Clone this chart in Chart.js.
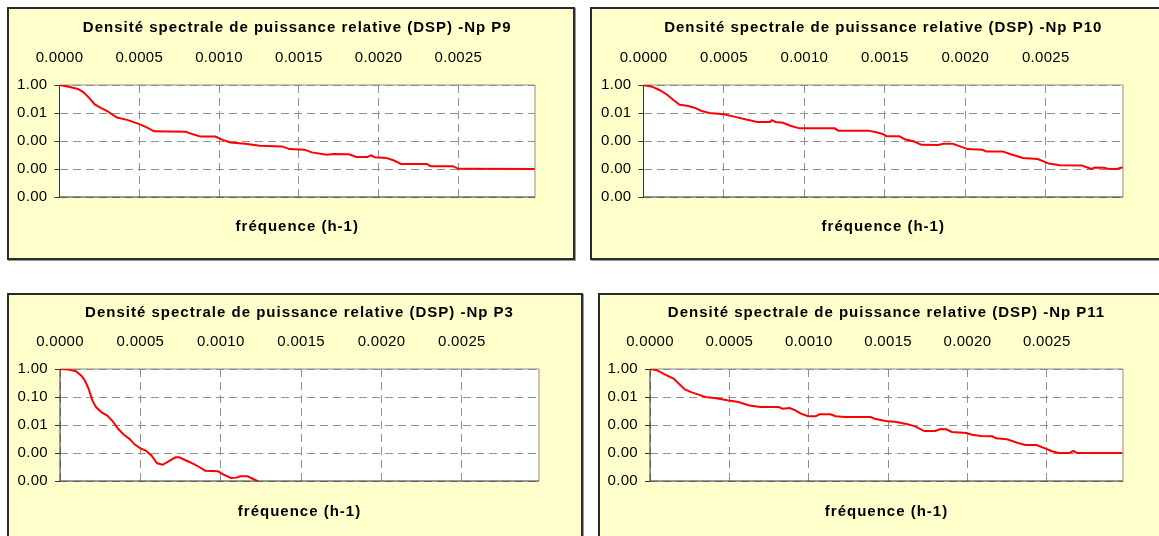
<!DOCTYPE html>
<html lang="fr">
<head>
<meta charset="utf-8">
<script src="https://cdn.jsdelivr.net/npm/chart.js"></script>
<style>
  html, body { margin: 0; padding: 0; background: #fff; width: 1159px; height: 536px; overflow: hidden; }
  .panel { position: absolute; box-sizing: border-box; border: 2px solid #2b2b2b; background: #ffffcc; box-shadow: 1px 1px 0 #9a9a9a; }
  .panel canvas { display: block; }
</style>
</head>
<body>
<div class="panel" style="left:7px;top:7px;width:568px;height:253px"><canvas id="cP9" width="564" height="249"></canvas></div>
<div class="panel" style="left:590px;top:7px;width:600px;height:253px"><canvas id="cP10" width="596" height="249"></canvas></div>
<div class="panel" style="left:7px;top:293px;width:576px;height:260px"><canvas id="cP3" width="572" height="256"></canvas></div>
<div class="panel" style="left:598px;top:293px;width:600px;height:260px"><canvas id="cP11" width="596" height="256"></canvas></div>

<script>
// axes
const X_MAX = 0.00298;
const xTicks = [0, 0.0005, 0.0010, 0.0015, 0.0020, 0.0025];
const yTicksWide = [1, 1e-2, 1e-4, 1e-6, 1e-8];
const yTicksP3 = [1, 1e-1, 1e-2, 1e-3, 1e-4];

// Np P9
const freqP9 = [0, 5.8e-5, 1.16e-4, 1.51e-4, 1.86e-4, 2.21e-4, 2.56e-4, 3.02e-4, 3.60e-4, 4.30e-4,
  5.00e-4, 5.47e-4, 5.93e-4, 7.91e-4, 8.37e-4, 8.84e-4, 9.77e-4, 1.023e-3, 1.070e-3, 1.163e-3,
  1.256e-3, 1.395e-3, 1.442e-3, 1.535e-3, 1.581e-3, 1.674e-3, 1.721e-3, 1.814e-3, 1.860e-3, 1.930e-3,
  1.953e-3, 1.977e-3, 2.047e-3, 2.093e-3, 2.140e-3, 2.302e-3, 2.326e-3, 2.465e-3, 2.500e-3, 2.977e-3];
const dspP9 = [1, 0.76, 0.52, 0.30, 0.12, 0.041, 0.024, 0.0132, 0.0047, 0.0031,
  0.0016, 9.4e-4, 4.9e-4, 4.6e-4, 3.0e-4, 2.06e-4, 2.06e-4, 1.2e-4, 7.8e-5, 6.3e-5,
  4.5e-5, 4.1e-5, 2.65e-5, 2.4e-5, 1.54e-5, 1.05e-5, 1.18e-5, 1.11e-5, 7.2e-6, 7.2e-6,
  9.5e-6, 6.9e-6, 6.2e-6, 4.2e-6, 2.3e-6, 2.3e-6, 1.6e-6, 1.6e-6, 1.03e-6, 1.0e-6];

// Np P10
const freqP10 = [0, 5.3e-5, 9.9e-5, 1.45e-4, 1.90e-4, 2.25e-4, 2.71e-4, 3.17e-4, 3.62e-4, 4.08e-4,
  5.00e-4, 5.69e-4, 6.38e-4, 7.07e-4, 7.87e-4, 7.98e-4, 8.21e-4, 8.67e-4, 9.13e-4, 9.70e-4,
  1.188e-3, 1.211e-3, 1.395e-3, 1.441e-3, 1.487e-3, 1.509e-3, 1.590e-3, 1.624e-3, 1.682e-3, 1.727e-3,
  1.831e-3, 1.865e-3, 1.922e-3, 1.968e-3, 2.014e-3, 2.106e-3, 2.129e-3, 2.232e-3, 2.278e-3, 2.358e-3,
  2.450e-3, 2.519e-3, 2.588e-3, 2.725e-3, 2.783e-3, 2.806e-3, 2.863e-3, 2.897e-3, 2.943e-3, 2.978e-3];
const dspP10 = [1, 0.76, 0.44, 0.21, 0.079, 0.039, 0.033, 0.024, 0.014, 0.0101,
  0.0081, 0.0053, 0.0034, 0.0023, 0.0023, 0.0031, 0.0023, 0.0020, 0.00123, 8.0e-4,
  8.0e-4, 5.5e-4, 5.5e-4, 4.4e-4, 3.2e-4, 2.2e-4, 2.2e-4, 1.34e-4, 9.2e-5, 5.3e-5,
  5.1e-5, 6.3e-5, 6.3e-5, 4.1e-5, 2.65e-5, 2.4e-5, 1.8e-5, 1.8e-5, 1.18e-5, 6.2e-6,
  5.2e-6, 2.45e-6, 1.87e-6, 1.77e-6, 1.03e-6, 1.28e-6, 1.22e-6, 9.8e-7, 1.0e-6, 1.35e-6];

// Np P3
const freqP3 = [0, 5.3e-5, 9.9e-5, 1.33e-4, 1.56e-4, 1.79e-4, 2.02e-4, 2.25e-4, 2.60e-4, 2.94e-4,
  3.29e-4, 3.63e-4, 3.98e-4, 4.32e-4, 4.66e-4, 5.01e-4, 5.35e-4, 5.70e-4, 6.04e-4, 6.39e-4,
  6.73e-4, 7.19e-4, 7.42e-4, 7.88e-4, 8.34e-4, 8.69e-4, 9.03e-4, 9.84e-4, 1.018e-3, 1.064e-3,
  1.098e-3, 1.121e-3, 1.167e-3, 1.202e-3, 1.236e-3];
const dspP3 = [1, 0.95, 0.83, 0.58, 0.38, 0.19, 0.074, 0.043, 0.028, 0.0216,
  0.0135, 0.0072, 0.0045, 0.0032, 0.0020, 0.00147, 0.00121, 8.0e-4, 4.3e-4, 3.8e-4,
  4.9e-4, 7.0e-4, 7.0e-4, 5.3e-4, 4.0e-4, 3.1e-4, 2.34e-4, 2.21e-4, 1.68e-4, 1.28e-4,
  1.32e-4, 1.47e-4, 1.47e-4, 1.18e-4, 9.5e-5];

// Np P11
const freqP11 = [0, 4.6e-5, 9.3e-5, 1.51e-4, 1.86e-4, 2.20e-4, 2.55e-4, 3.01e-4, 3.48e-4, 4.17e-4,
  4.87e-4, 5.57e-4, 6.26e-4, 6.96e-4, 8.12e-4, 8.35e-4, 8.81e-4, 9.16e-4, 9.51e-4, 9.97e-4,
  1.044e-3, 1.067e-3, 1.136e-3, 1.171e-3, 1.229e-3, 1.391e-3, 1.415e-3, 1.484e-3, 1.554e-3, 1.623e-3,
  1.670e-3, 1.728e-3, 1.797e-3, 1.832e-3, 1.867e-3, 1.902e-3, 1.994e-3, 2.029e-3, 2.087e-3, 2.157e-3,
  2.180e-3, 2.249e-3, 2.319e-3, 2.365e-3, 2.435e-3, 2.493e-3, 2.528e-3, 2.574e-3, 2.644e-3, 2.667e-3,
  2.690e-3, 2.975e-3];
const dspP11 = [1, 0.80, 0.42, 0.20, 0.080, 0.035, 0.023, 0.0155, 0.010, 0.0080,
  0.0058, 0.0044, 0.0025, 0.0019, 0.0019, 0.00147, 0.00164, 0.00112, 6.5e-4, 4.2e-4,
  4.2e-4, 5.8e-4, 5.8e-4, 4.2e-4, 3.7e-4, 3.7e-4, 2.8e-4, 1.93e-4, 1.64e-4, 1.12e-4,
  8.0e-5, 3.7e-5, 3.7e-5, 5.2e-5, 4.9e-5, 3.2e-5, 2.7e-5, 2.0e-5, 1.64e-5, 1.55e-5,
  1.12e-5, 9.5e-6, 5.2e-6, 3.7e-6, 3.7e-6, 2.04e-6, 1.39e-6, 1.0e-6, 1.0e-6, 1.39e-6,
  1.0e-6, 1.0e-6];

const TITLE = 'Densité spectrale de puissance relative (DSP) -Np ';
const X_TITLE = 'fréquence (h-1)';

Chart.defaults.font.family = 'Arial, "Liberation Sans", sans-serif';
Chart.defaults.color = '#000';

// white plot area + excel-like frame (dark axes left/bottom, grey top/right)
const framePlugin = {
  id: 'excelFrame',
  beforeInit(chart) {
    // excel spreads its text a little: wider for the bold titles
    const ctx = chart.ctx;
    const fillText = ctx.fillText;
    ctx.fillText = function (text, x, y, maxWidth) {
      this.letterSpacing = this.font.includes('bold') ? '1px' : '0.3px';
      return maxWidth === undefined ? fillText.call(this, text, x, y) : fillText.call(this, text, x, y, maxWidth);
    };
  },
  beforeDraw(chart) {
    const { ctx, chartArea: a } = chart;
    ctx.save();
    ctx.fillStyle = '#ffffff';
    ctx.fillRect(a.left, a.top, a.right - a.left, a.bottom - a.top);
    ctx.restore();
  },
  beforeDatasetsDraw(chart) {
    const { ctx, chartArea: a } = chart;
    ctx.save();
    ctx.lineWidth = 1;
    ctx.strokeStyle = '#8c8c8c';
    ctx.beginPath();
    ctx.moveTo(a.left, a.top);
    ctx.lineTo(a.right, a.top);
    ctx.lineTo(a.right, a.bottom);
    ctx.stroke();
    ctx.strokeStyle = '#333333';
    ctx.beginPath();
    ctx.moveTo(a.left, a.top);
    ctx.lineTo(a.left, a.bottom);
    ctx.lineTo(a.right, a.bottom);
    ctx.stroke();
    ctx.restore();
  },
};

function drawPanel(canvasId, name, freqs, values, yTicks, box) {
  const ctx = document.getElementById(canvasId)?.getContext('2d');
  if (!ctx) {
    console.error(`Canvas ${canvasId} not found.`);
    return null;
  }
  const cw = ctx.canvas.width;
  const ch = ctx.canvas.height;
  const titlePadTop = box.titleY - 9;
  const titleH = titlePadTop + 18;
  const xtPad = box.xTitleY - box.bottom - 9;
  const xtH = xtPad + 18;

  return new Chart(ctx, {
    type: 'line',
    data: {
      datasets: [
        {
          data: freqs.map((f, i) => ({ x: f, y: values[i] })),
          borderColor: '#ff0000',
          borderWidth: 2,
          pointRadius: 0,
          tension: 0,
          fill: false,
          xAxisID: 'x',
          yAxisID: 'y',
        },
      ],
    },
    options: {
      responsive: false,
      animation: false,
      devicePixelRatio: 1,
      layout: {
        padding: { left: 0, top: 0, right: cw - box.right, bottom: ch - box.bottom - xtH },
      },
      plugins: {
        legend: { display: false },
        tooltip: { enabled: false },
        title: {
          display: true,
          fullSize: false,
          text: TITLE + name,
          color: '#000',
          font: { size: 15, weight: 'bold' },
          padding: { top: titlePadTop, bottom: 0 },
        },
      },
      scales: {
        x: {
          type: 'linear',
          position: 'top',
          min: 0,
          max: X_MAX,
          afterBuildTicks: (s) => { s.ticks = xTicks.map((v) => ({ value: v })); },
          afterFit: (s) => { s.height = box.top - titleH; },
          ticks: {
            callback: (v) => Number(v).toFixed(4),
            font: { size: 15 },
            color: '#000',
            padding: box.top - box.tickY - 9,
            maxRotation: 0,
            autoSkip: false,
          },
          grid: { color: '#909090', drawTicks: false },
          border: { display: false, dash: [8, 5] },
        },
        xt: {
          axis: 'x',
          type: 'linear',
          position: 'bottom',
          afterFit: (s) => { s.height = xtH; },
          ticks: { display: false },
          grid: { display: false },
          border: { display: false },
          title: {
            display: true,
            text: X_TITLE,
            color: '#000',
            font: { size: 15, weight: 'bold' },
            padding: { top: xtPad, bottom: 0 },
          },
        },
        y: {
          type: 'logarithmic',
          position: 'left',
          min: yTicks[yTicks.length - 1],
          max: yTicks[0],
          afterBuildTicks: (s) => { s.ticks = yTicks.map((v) => ({ value: v })); },
          afterFit: (s) => { s.width = box.left; },
          ticks: {
            callback: (v) => Number(v).toFixed(2),
            font: { size: 15 },
            color: '#000',
            padding: 7,
            autoSkip: false,
          },
          grid: { color: '#909090', tickColor: '#333333', tickLength: 5, tickBorderDash: [] },
          border: { display: false, dash: [8, 5] },
        },
      },
    },
    plugins: [framePlugin],
  });
}

drawPanel('cP9', 'P9', freqP9, dspP9, yTicksWide,
  { left: 50.5, right: 526, top: 76, bottom: 188, titleY: 19, tickY: 49, xTitleY: 218 });
drawPanel('cP10', 'P10', freqP10, dspP10, yTicksWide,
  { left: 51.5, right: 531, top: 76, bottom: 188, titleY: 19, tickY: 49, xTitleY: 218 });
drawPanel('cP3', 'P3', freqP3, dspP3, yTicksP3,
  { left: 51, right: 530, top: 74, bottom: 186, titleY: 18, tickY: 47, xTitleY: 217 });
drawPanel('cP11', 'P11', freqP11, dspP11, yTicksWide,
  { left: 50, right: 523, top: 74, bottom: 186, titleY: 18, tickY: 47, xTitleY: 217 });
</script>
</body>
</html>
